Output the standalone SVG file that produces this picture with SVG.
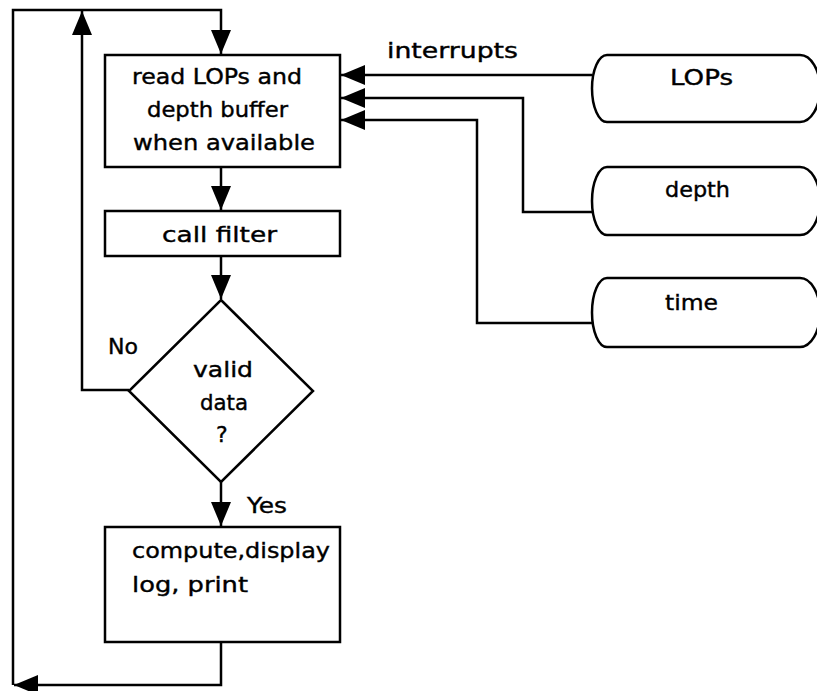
<svg xmlns="http://www.w3.org/2000/svg" width="817" height="691" viewBox="0 0 817 691">
<defs>
<style>
.s{fill:#fff;stroke:#000;stroke-width:2.5}
.c{fill:none;stroke:#000;stroke-width:2.5;stroke-linejoin:miter}
.t{font-family:"DejaVu Sans","Liberation Sans",sans-serif;font-size:22px;fill:#000;stroke:#000;stroke-width:0.4}
</style>
<marker id="ah" viewBox="0 0 24 20" markerWidth="24" markerHeight="20" refX="24" refY="10" orient="auto" markerUnits="userSpaceOnUse">
<path d="M0,0 L24,10 L0,20 Z" fill="#000"/>
</marker>
</defs>
<rect width="817" height="691" fill="#fff"/>
<g id="connectors">
<path class="c" d="M221,642 V685 H14" marker-end="url(#ah)"/>
<path class="c" d="M13,685 V10 H221 V54" marker-end="url(#ah)"/>
<path class="c" d="M129,390 H82 V11" marker-end="url(#ah)"/>
<path class="c" d="M221,167 V210" marker-end="url(#ah)"/>
<path class="c" d="M221,256 V299" marker-end="url(#ah)"/>
<path class="c" d="M221,482 V526" marker-end="url(#ah)"/>
<path class="c" d="M592,75 H341" marker-end="url(#ah)"/>
<path class="c" d="M592,212 H523 V98 H341" marker-end="url(#ah)"/>
<path class="c" d="M592,323 H477 V120 H341" marker-end="url(#ah)"/>
<text class="t" x="387" y="58" textLength="131" lengthAdjust="spacingAndGlyphs">interrupts</text>
<text class="t" x="108" y="354" textLength="30" lengthAdjust="spacingAndGlyphs">No</text>
<text class="t" x="247" y="513" textLength="40" lengthAdjust="spacingAndGlyphs">Yes</text>
</g>
<g id="read">
<rect class="s" x="105" y="55" width="235" height="112"/>
<text class="t" x="132" y="84" textLength="170" lengthAdjust="spacingAndGlyphs">read LOPs and</text>
<text class="t" x="147" y="117" textLength="141" lengthAdjust="spacingAndGlyphs">depth buffer</text>
<text class="t" x="133" y="150" textLength="182" lengthAdjust="spacingAndGlyphs">when available</text>
</g>
<g id="filter">
<rect class="s" x="105" y="211" width="235" height="45"/>
<text class="t" x="162" y="242" textLength="115" lengthAdjust="spacingAndGlyphs">call filter</text>
</g>
<g id="valid">
<path class="s" d="M221,300 L313,391 L221,482 L129,391 Z"/>
<text class="t" x="193" y="377" textLength="60" lengthAdjust="spacingAndGlyphs">valid</text>
<text class="t" x="200" y="410" textLength="48" lengthAdjust="spacingAndGlyphs">data</text>
<text class="t" x="216" y="442">?</text>
</g>
<g id="compute">
<rect class="s" x="105" y="527" width="235" height="115"/>
<text class="t" x="132" y="558" textLength="198" lengthAdjust="spacingAndGlyphs">compute,display</text>
<text class="t" x="132" y="592" textLength="116" lengthAdjust="spacingAndGlyphs">log, print</text>
</g>
<g id="lops">
<path class="s" d="M607,55 H800 A20,33.5 0 0 1 800,122 H607 A15,33.5 0 0 1 607,55 Z"/>
<text class="t" x="670" y="85" textLength="63" lengthAdjust="spacingAndGlyphs">LOPs</text>
</g>
<g id="depth">
<path class="s" d="M607,167 H800 A20,34 0 0 1 800,235 H607 A15,34 0 0 1 607,167 Z"/>
<text class="t" x="665" y="197" textLength="65" lengthAdjust="spacingAndGlyphs">depth</text>
</g>
<g id="time">
<path class="s" d="M607,278 H800 A20,34.5 0 0 1 800,347 H607 A15,34.5 0 0 1 607,278 Z"/>
<text class="t" x="665" y="310" textLength="53" lengthAdjust="spacingAndGlyphs">time</text>
</g>
</svg>
